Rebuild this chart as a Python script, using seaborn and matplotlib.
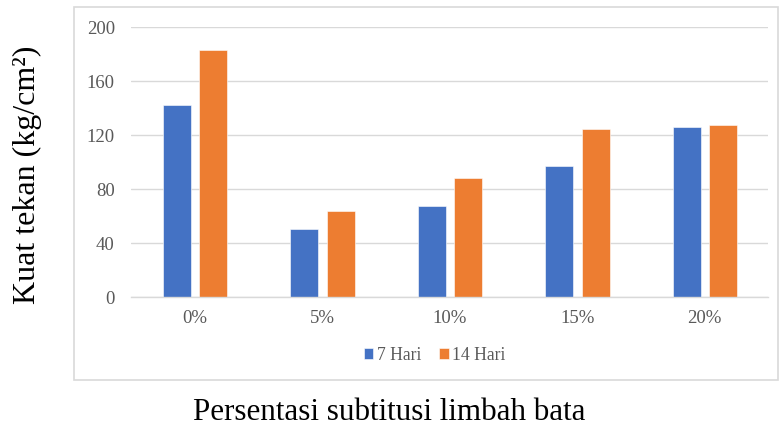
import pandas as pd
import matplotlib.pyplot as plt
import seaborn as sns
from matplotlib.patches import Rectangle

# data
categories = ['0%', '5%', '10%', '15%', '20%']
hari_7 = [142.4, 50.4, 67.9, 97.5, 126.4]
hari_14 = [183.2, 63.9, 88.1, 124.9, 127.6]
series_names = ['7 Hari', '14 Hari']
y_ticks = [0, 40, 80, 120, 160, 200]


def make_chart():
    df = pd.DataFrame({
        'kategori': categories * 2,
        'nilai': hari_7 + hari_14,
        'umur': [series_names[0]] * len(categories) + [series_names[1]] * len(categories),
    })

    sns.set_theme(style="white")
    plt.rcParams['font.family'] = ['Liberation Serif', 'DejaVu Serif']

    fig = plt.figure(figsize=(7.79, 4.32), dpi=100)

    # outer chart frame (Excel style box)
    fig.patches.append(Rectangle((0.095, 0.1204), 0.9037, 0.8634, transform=fig.transFigure,
                                 facecolor='none', edgecolor='#d9d9d9', linewidth=1.2))

    ax = fig.add_axes([0.1688, 0.3118, 0.8177, 0.625])
    sns.barplot(data=df, x='kategori', y='nilai', hue='umur',
                palette=['#4472C4', '#ED7D31'], saturation=1, width=0.573, gap=0.233,
                edgecolor='white', linewidth=0.4, ax=ax, legend=True)

    ax.set_ylim(0, 200)
    ax.set_xlim(-0.5, len(categories) - 0.5)
    ax.set_yticks(y_ticks)
    ax.yaxis.grid(True, color='#d9d9d9', linewidth=1)
    ax.set_axisbelow(True)
    for side in ['top', 'right', 'left']:
        ax.spines[side].set_visible(False)
    ax.spines['bottom'].set_color('#d9d9d9')
    ax.spines['bottom'].set_linewidth(1)
    ax.tick_params(axis='y', length=0, pad=12, labelsize=13.5, labelcolor='#595959')
    ax.tick_params(axis='x', length=0, pad=9, labelsize=13.5, labelcolor='#595959')
    ax.set_xlabel('')
    ax.set_ylabel('')

    handles, labels = ax.get_legend_handles_labels()
    ax.legend_.remove()
    fig.legend(handles, labels, loc='center', bbox_to_anchor=(0.558, 0.178), ncol=2,
               frameon=False, fontsize=12.7, handlelength=0.55, handleheight=0.55,
               handletextpad=0.2, columnspacing=1.0, labelcolor='#595959')

    fig.text(0.035, 0.595, 'Kuat tekan (kg/cm\u00b2)', rotation=90, ha='center', va='center',
             fontsize=23, color='black')
    fig.text(0.4994, 0.044, 'Persentasi subtitusi limbah bata', ha='center', va='center',
             fontsize=22.3, color='black')

    fig.savefig('out.png', dpi=100)
    plt.close(fig)


if __name__ == "__main__":
    make_chart()
